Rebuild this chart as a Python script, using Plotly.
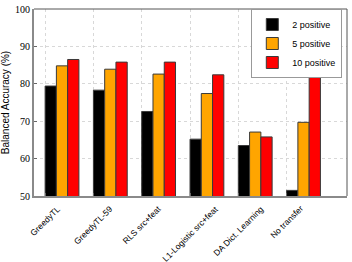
import plotly.graph_objects as go

categories = ["GreedyTL", "GreedyTL-59", "RLS src+feat", "L1-Logistic src+feat",
              "DA Dict. Learning", "No transfer"]
series_names = ["2 positive", "5 positive", "10 positive"]
pos2 = [79.4, 78.3, 72.6, 65.2, 63.5, 51.5]
pos5 = [84.8, 83.9, 82.6, 77.4, 67.1, 69.7]
pos10 = [86.5, 85.8, 85.8, 82.4, 65.8, 83.5]
colors = ["#000000", "#FFA500", "#FF0000"]
y_ticks = [50, 60, 70, 80, 90, 100]

xpos = list(range(1, len(categories) + 1))
group_width = 0.7
grid_pos = [x - group_width / 2 for x in xpos]

fig = go.Figure()
xrange = [0.42, 6.9]
# invisible helper so the overlaid grid axis is drawn
fig.add_trace(go.Scatter(x=[xrange[0]], y=[None], xaxis="x2", showlegend=False,
                         hoverinfo="skip", mode="markers", marker=dict(opacity=0)))
for name, vals, col in zip(series_names, [pos2, pos5, pos10], colors):
    fig.add_trace(go.Bar(
        x=xpos, y=vals, name=name,
        marker=dict(color=col, line=dict(color="#3a3a3a", width=1)),
    ))

# rotated category labels, centred on the axis ticks (as in the original)
for gx, lab in zip(grid_pos, categories):
    fig.add_annotation(x=gx, xref="x", y=0, yref="paper", text=lab,
                       textangle=-45, xanchor="center", yanchor="top",
                       yshift=-5, showarrow=False,
                       font=dict(size=8.5, family="Liberation Sans, Arial, sans-serif"))

fig.update_layout(
    width=352, height=262,
    margin=dict(l=34, r=5, t=9, b=66, autoexpand=False),
    paper_bgcolor="white", plot_bgcolor="white",
    barmode="group", bargap=1 - group_width, bargroupgap=0,
    font=dict(family="Liberation Sans, Arial, sans-serif", color="black"),
    showlegend=True,
    legend=dict(x=0.985, y=1.0, xanchor="right", yanchor="top",
                bgcolor="white", bordercolor="#999999", borderwidth=1,
                font=dict(size=9), tracegroupgap=0, itemwidth=30),
    xaxis=dict(range=xrange, tickvals=xpos, showticklabels=False, automargin=False,
               showgrid=False, ticks="", showline=True,
               linecolor="#8a8a8a", linewidth=2, mirror=False, zeroline=False),
    xaxis2=dict(range=xrange, overlaying="x", side="bottom",
                tickvals=grid_pos, showticklabels=False, automargin=False,
                showgrid=True, griddash="dot", gridcolor="#d8d8d8", gridwidth=1,
                ticks="inside", ticklen=3, tickcolor="#666666",
                showline=False, zeroline=False),
    yaxis=dict(range=[50, 100], tickvals=y_ticks, automargin=False,
               tickfont=dict(family="Liberation Serif, Times New Roman, serif", size=10),
               showgrid=True, griddash="dot", gridcolor="#d8d8d8", gridwidth=1,
               ticks="inside", ticklen=3, tickcolor="#666666",
               showline=True, linecolor="#8a8a8a", linewidth=2, mirror=False,
               zeroline=False,
               title=dict(text="Balanced Accuracy (%)", font=dict(size=10), standoff=8)),
    shapes=[
        dict(type="line", xref="paper", yref="paper", x0=0, x1=1, y0=1, y1=1,
             line=dict(color="#555555", width=1)),
        dict(type="line", xref="paper", yref="paper", x0=1, x1=1, y0=0, y1=1,
             line=dict(color="#555555", width=1)),
    ],
)

fig.write_html("out.html", config={"displayModeBar": False},
               post_script="document.body.style.margin='0';document.body.style.overflow='hidden';")
